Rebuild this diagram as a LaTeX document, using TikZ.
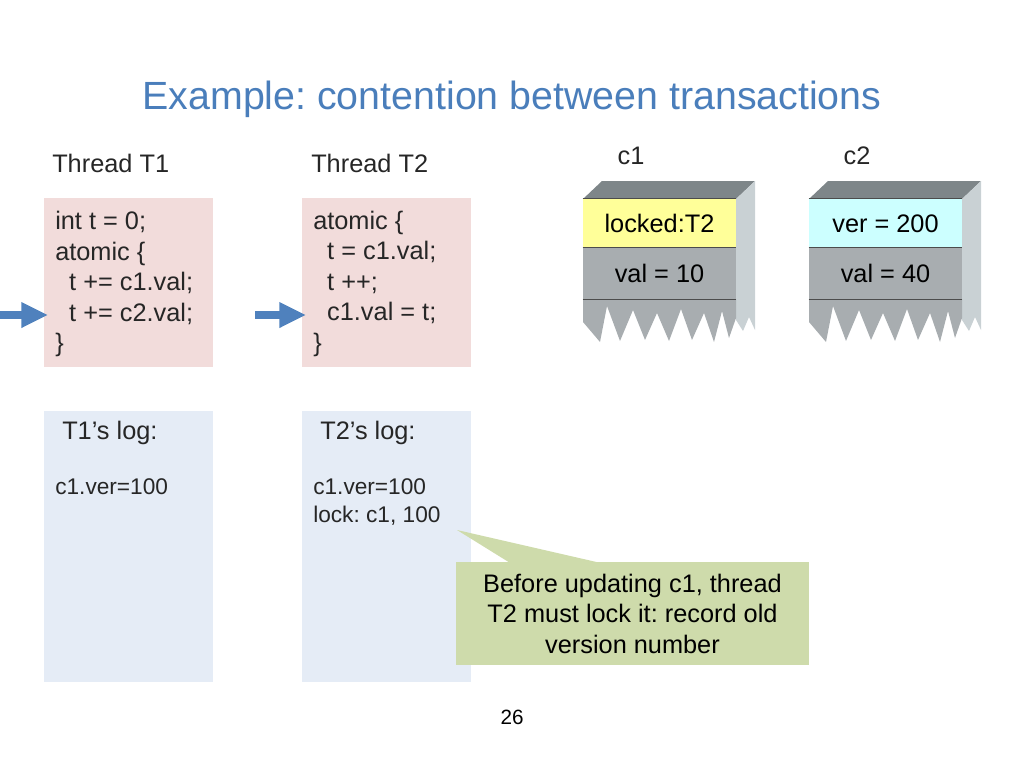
\documentclass[tikz,border=0pt]{standalone}
\usepackage{fontspec}
\setmainfont{Liberation Sans}
\usetikzlibrary{arrows.meta,calc}
\frenchspacing

\definecolor{titleblue}{RGB}{74,126,187}
\definecolor{arrowblue}{RGB}{79,129,189}
\definecolor{codepink}{RGB}{242,220,219}
\definecolor{logblue}{RGB}{229,236,246}
\definecolor{notegreen}{RGB}{206,219,171}
\definecolor{lockyellow}{RGB}{255,255,153}
\definecolor{vercyan}{RGB}{204,255,255}
\definecolor{celltop}{RGB}{126,134,137}
\definecolor{cellfront}{RGB}{168,173,176}
\definecolor{cellside}{RGB}{201,209,212}

\begin{document}
\begin{tikzpicture}[x=0.75pt,y=-0.75pt,
  every node/.style={font=\fontsize{19}{22.9}\selectfont,inner sep=0pt},
  code box/.style={rectangle,fill=codepink,anchor=north west,
    minimum width=126.75pt,minimum height=126.75pt},
  log box/.style={rectangle,fill=logblue,anchor=north west,
    minimum width=126.75pt,minimum height=203.25pt},
  code/.style={anchor=north west,align=left,text=black!85},
  small/.style={font=\fontsize{17}{21}\selectfont},
  cell/.style={rectangle,minimum width=114.75pt},
  edgeline/.style={draw=black!70,line width=0.9pt},
  flow/.style={draw=arrowblue,line width=6pt,
    -{Triangle[length=20pt,width=18pt]},shorten >=-3pt}]

  \useasboundingbox (0,0) rectangle (1024,768);

  \node[font=\fontsize{29.5}{35}\selectfont,text=titleblue] (title) at (512,99)
    {Example: contention between transactions};

  % threads
  \node[anchor=base west,text=black!85] (t1name) at (52,172) {Thread T1};
  \node[anchor=base west,text=black!85] (t2name) at (311,172) {Thread T2};

  \node[code box] (t1code) at (44,198) {};
  \node[code box] (t2code) at (302,198) {};
  \node[code] (t1text) at (55,211) {int t = 0;\\atomic \{\\
    \hspace*{0.55em}t += c1.val;\\\hspace*{0.55em}t += c2.val;\\\}};
  \node[code] (t2text) at (313,210.5) {atomic \{\\
    \hspace*{0.55em}t = c1.val;\\\hspace*{0.55em}t ++;\\
    \hspace*{0.55em}c1.val = t;\\\}};

  \coordinate (arr1) at (0,315);
  \coordinate (arr2) at (255,315);
  \draw[flow] (arr1) -- (arr1 -| t1code.west);
  \draw[flow] (arr2) -- (arr2 -| t2code.west);

  % logs
  \node[log box] (t1log) at (44,411) {};
  \node[log box] (t2log) at (302,411) {};
  \node[code] (t1head) at (62,420.5) {T1's log:};
  \node[code] (t2head) at (320,420.5) {T2's log:};
  \node[code,small] (t1ent) at (55,478) {c1.ver=100};
  \node[code,small] (t2ent) at (313,478) {c1.ver=100\\lock: c1, 100};

  % memory cells
  \foreach \x/\n/\a/\b/\col in {583/c1/locked:T2/val = 10/lockyellow,
                                809/c2/ver = 200/val = 40/vercyan} {
    \fill[celltop] (\x,199) -- (\x+19,181) -- (\x+172,181) -- (\x+153,199) -- cycle;
    \fill[cellside] (\x+153,199) -- (\x+172,181) -- (\x+172,330) -- (\x+166,317)
      -- (\x+160,331) -- (\x+153,320) -- cycle;
    \fill[cellfront] (\x,299) -- (\x+153,299)
      \foreach \u/\v in {153/318,146/338,139/311,131/342,121/313,109/340,98/309,
                         86/341,74/313,62/340,50/310,37/341,24/306,17/342,0/322}
        { -- (\x+\u,\v) } -- cycle;
    \node[cell,fill=\col,minimum height=36.75pt] (\n lock) at (\x+76.5,223.5) {\a};
    \node[cell,fill=cellfront,minimum height=38.25pt] (\n val) at (\x+76.5,273.5) {\b};
    \draw[edgeline] (\n lock.north west) -- (\n lock.north east);
    \draw[edgeline] (\n val.north west) -- (\n val.north east);
    \draw[edgeline] (\n val.south west) -- (\n val.south east);
    \node[text=black!85] (\n name) at (\x+48,156) {\n};
  }

  % callout
  \coordinate (notetip) at (457,530);
  \node[rectangle,fill=notegreen,minimum width=264.75pt,minimum height=77.25pt,
    align=center] (note) at (632.5,613.5)
    {Before updating c1, thread\\T2 must lock it: record old\\version number};
  \fill[notegreen] (notetip) -- ($(note.north west)+(54,1)$)
    -- ($(note.north west)+(144,1)$) -- cycle;

  \node[font=\fontsize{15.5}{18}\selectfont] (pagenum) at (512,717) {26};
\end{tikzpicture}
\end{document}
